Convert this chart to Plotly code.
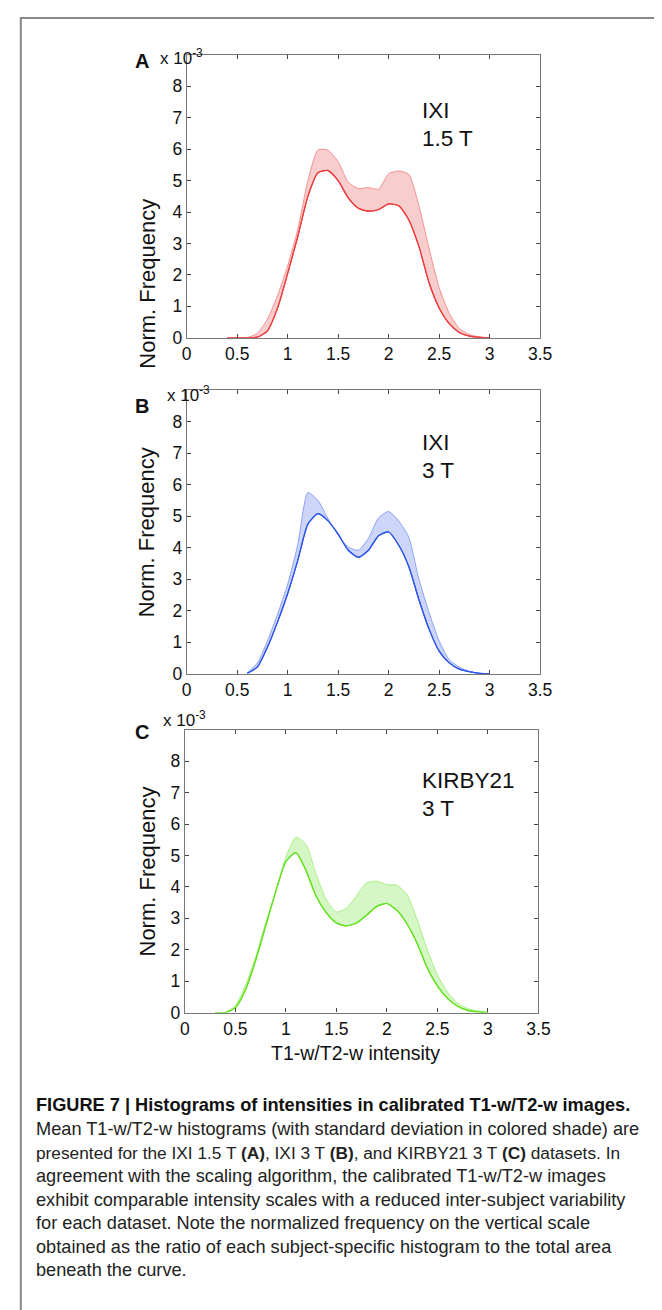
import plotly.graph_objects as go

W, H = 662, 1310

# ---------------- data (in units of 1e-3) -------------
x_a = [0.4, 0.5, 0.6, 0.7, 0.8, 0.9, 1.0, 1.1, 1.2, 1.3, 1.4, 1.5, 1.6, 1.7, 1.8, 1.9,
       2.0, 2.1, 2.2, 2.3, 2.4, 2.5, 2.6, 2.7, 2.8, 2.9, 3.0]
mean_a = [0, 0, 0, 0.02, 0.22, 0.95, 2.05, 3.22, 4.5, 5.25, 5.32, 5.0, 4.45, 4.12, 4.03, 4.08,
          4.26, 4.2, 3.75, 2.9, 1.75, 0.95, 0.45, 0.17, 0.05, 0.01, 0]
upper_a = [0, 0, 0.01, 0.14, 0.6, 1.35, 2.3, 3.45, 5.0, 5.98, 5.97, 5.6, 4.95, 4.75, 4.78, 4.73,
           5.22, 5.31, 5.2, 4.2, 2.85, 1.6, 0.78, 0.3, 0.1, 0.03, 0]

x_b = [0.6, 0.7, 0.8, 0.9, 1.0, 1.1, 1.2, 1.3, 1.4, 1.5, 1.6, 1.7, 1.8, 1.9,
       2.0, 2.1, 2.2, 2.3, 2.4, 2.5, 2.6, 2.7, 2.8, 2.9, 3.0]
mean_b = [0.02, 0.22, 0.85, 1.65, 2.55, 3.6, 4.75, 5.08, 4.85, 4.43, 3.92, 3.70, 3.92, 4.38,
          4.50, 4.08, 3.40, 2.35, 1.42, 0.72, 0.35, 0.15, 0.07, 0.02, 0]
upper_b = [0.03, 0.35, 1.05, 1.9, 2.85, 4.1, 5.75, 5.5, 4.92, 4.4, 4.02, 3.92, 4.3, 4.95,
           5.15, 4.85, 4.33, 3.0, 1.95, 1.05, 0.45, 0.22, 0.07, 0.02, 0]

x_c = [0.3, 0.4, 0.5, 0.6, 0.7, 0.8, 0.9, 1.0, 1.1, 1.2, 1.3, 1.4, 1.5, 1.6, 1.7, 1.8, 1.9,
       2.0, 2.1, 2.2, 2.3, 2.4, 2.5, 2.6, 2.7, 2.8, 2.9, 3.0]
mean_c = [0, 0, 0.15, 0.72, 1.65, 2.75, 3.85, 4.8, 5.09, 4.52, 3.7, 3.18, 2.85, 2.76, 2.85,
          3.1, 3.38, 3.47, 3.25, 2.82, 2.2, 1.42, 0.85, 0.45, 0.2, 0.07, 0.02, 0]
upper_c = [0, 0, 0.22, 0.86, 1.75, 2.85, 3.85, 4.95, 5.58, 5.35, 4.4, 3.6, 3.2, 3.32, 3.72,
           4.13, 4.18, 4.07, 4.05, 3.75, 2.95, 2.0, 1.2, 0.65, 0.3, 0.13, 0.05, 0]

panel_letters = ["A", "B", "C"]
dataset_names = ["IXI", "IXI", "KIRBY21"]
field_strengths = ["1.5 T", "3 T", "3 T"]
y_ticks = [0, 1, 2, 3, 4, 5, 6, 7, 8]
x_ticks = [0, 0.5, 1, 1.5, 2, 2.5, 3, 3.5]
x_tick_labels = ["0", "0.5", "1", "1.5", "2", "2.5", "3", "3.5"]
x_title = "T1-w/T2-w intensity"
y_title = "Norm. Frequency"
caption_title = "FIGURE 7 | Histograms of intensities in calibrated T1-w/T2-w images."
caption_lines = [
    "Mean T1-w/T2-w histograms (with standard deviation in colored shade) are",
    "presented for the IXI 1.5 T <b>(A)</b>, IXI 3 T <b>(B)</b>, and KIRBY21 3 T <b>(C)</b> datasets. In",
    "agreement with the scaling algorithm, the calibrated T1-w/T2-w images",
    "exhibit comparable intensity scales with a reduced inter-subject variability",
    "for each dataset. Note the normalized frequency on the vertical scale",
    "obtained as the ratio of each subject-specific histogram to the total area",
    "beneath the curve.",
]
caption_sizes = [18.2, 17.3, 18.2, 18.2, 18.2, 18.2, 18.2]

# ---------------- styling / layout ----------------
FONT = "Liberation Sans, Arial, Helvetica, sans-serif"
line_colors = ["rgb(238,60,60)", "rgb(45,85,235)", "rgb(100,225,30)"]
edge_colors = ["rgba(238,80,80,0.55)", "rgba(70,110,240,0.55)", "rgba(120,230,60,0.55)"]
fill_colors = ["rgba(246,200,200,0.9)", "rgba(200,208,248,0.9)", "rgba(208,246,192,0.9)"]

def py(p):
    return 1 - p / H

def px(p):
    return p / W

# plot boxes in pixels: (left, right, top, bottom)
boxes = [(178.3, 541.0, 47.3, 332.3), (178.3, 541.0, 385.0, 671.0), (176.3, 539.3, 727.3, 1012.3)]
letter_pos = [(123, 40), (123, 388), (123, 730)]
exp_pos = [(149, 36), (156, 376), (152, 716)]
name_pos = [(418, 89, 117), (418, 438, 466), (418, 778, 807)]

series = [(x_a, mean_a, upper_a), (x_b, mean_b, upper_b), (x_c, mean_c, upper_c)]

fig = go.Figure()
annotations = []
layout = {}
for i, ((xs, m, u), box) in enumerate(zip(series, boxes)):
    n = i + 1
    xa = "x" if n == 1 else f"x{n}"
    ya = "y" if n == 1 else f"y{n}"
    fig.add_trace(go.Scatter(x=xs, y=m, mode="lines", xaxis=xa, yaxis=ya,
                             line=dict(color=line_colors[i], width=1.2, shape="spline", smoothing=0.6),
                             showlegend=False, hoverinfo="skip"))
    fig.add_trace(go.Scatter(x=xs, y=u, mode="lines", xaxis=xa, yaxis=ya, fill="tonexty",
                             fillcolor=fill_colors[i],
                             line=dict(color=edge_colors[i], width=1, shape="spline", smoothing=0.6),
                             showlegend=False, hoverinfo="skip"))
    fig.add_trace(go.Scatter(x=xs, y=m, mode="lines", xaxis=xa, yaxis=ya,
                             line=dict(color=line_colors[i], width=1.2, shape="spline", smoothing=0.6),
                             showlegend=False, hoverinfo="skip"))
    l, r, t, b = box
    axis_common = dict(showline=True, linecolor="#777", linewidth=1.2, mirror="allticks",
                       ticks="inside", ticklen=4, tickcolor="#444", tickwidth=1,
                       showgrid=False, zeroline=False,
                       tickfont=dict(family=FONT, size=17.5, color="#111"))
    layout["xaxis" if n == 1 else f"xaxis{n}"] = dict(
        domain=[px(l), px(r)], range=[0, 3.5], tickvals=x_ticks, ticktext=x_tick_labels,
        anchor=ya, **axis_common)
    layout["yaxis" if n == 1 else f"yaxis{n}"] = dict(
        domain=[py(b), py(t)], range=[0, 9], tickvals=y_ticks, anchor=xa, **axis_common)

    annotations.append(dict(x=px(letter_pos[i][0]), y=py(letter_pos[i][1]), xref="paper", yref="paper",
                            text=f"<b>{panel_letters[i]}</b>", showarrow=False,
                            font=dict(family=FONT, size=20, color="#111")))
    annotations.append(dict(x=px(exp_pos[i][0]), y=py(exp_pos[i][1]), xref="paper", yref="paper",
                            xanchor="left", text="x 10<sup>-3</sup>", showarrow=False,
                            font=dict(family=FONT, size=17, color="#111")))
    annotations.append(dict(x=px(123), y=py((t + b) / 2), xref="paper", yref="paper",
                            text=y_title, textangle=-90, showarrow=False,
                            font=dict(family=FONT, size=22, color="#111")))
    nx, ny1, ny2 = name_pos[i]
    annotations.append(dict(x=px(nx), y=py(ny1), xref="paper", yref="paper", xanchor="left",
                            text=dataset_names[i], showarrow=False,
                            font=dict(family=FONT, size=22.5, color="#111")))
    annotations.append(dict(x=px(nx), y=py(ny2), xref="paper", yref="paper", xanchor="left",
                            text=field_strengths[i], showarrow=False,
                            font=dict(family=FONT, size=22.5, color="#111")))

annotations.append(dict(x=px(352), y=py(1066), xref="paper", yref="paper", text=x_title,
                        showarrow=False, font=dict(family=FONT, size=19.5, color="#111")))

cap_x = 22
cap_y0 = 1118
cap_dy = 23.7
annotations.append(dict(x=px(cap_x), y=py(cap_y0), xref="paper", yref="paper", xanchor="left",
                        text=f"<b>{caption_title}</b>", showarrow=False,
                        font=dict(family=FONT, size=18.2, color="#111")))
for k, line in enumerate(caption_lines):
    annotations.append(dict(x=px(cap_x), y=py(cap_y0 + (k + 1) * cap_dy), xref="paper", yref="paper",
                            xanchor="left", text=line, showarrow=False,
                            font=dict(family=FONT, size=caption_sizes[k], color="#222")))

fig.update_layout(
    width=W, height=H, margin=dict(l=0, r=0, t=0, b=0),
    paper_bgcolor="white", plot_bgcolor="white",
    annotations=annotations,
    shapes=[dict(type="rect", xref="paper", yref="paper", x0=px(8), x1=px(680), y0=py(1330), y1=py(10),
                 line=dict(color="#888", width=2), fillcolor="rgba(0,0,0,0)", layer="below")],
    **layout,
)

fig.write_html("out.html")
